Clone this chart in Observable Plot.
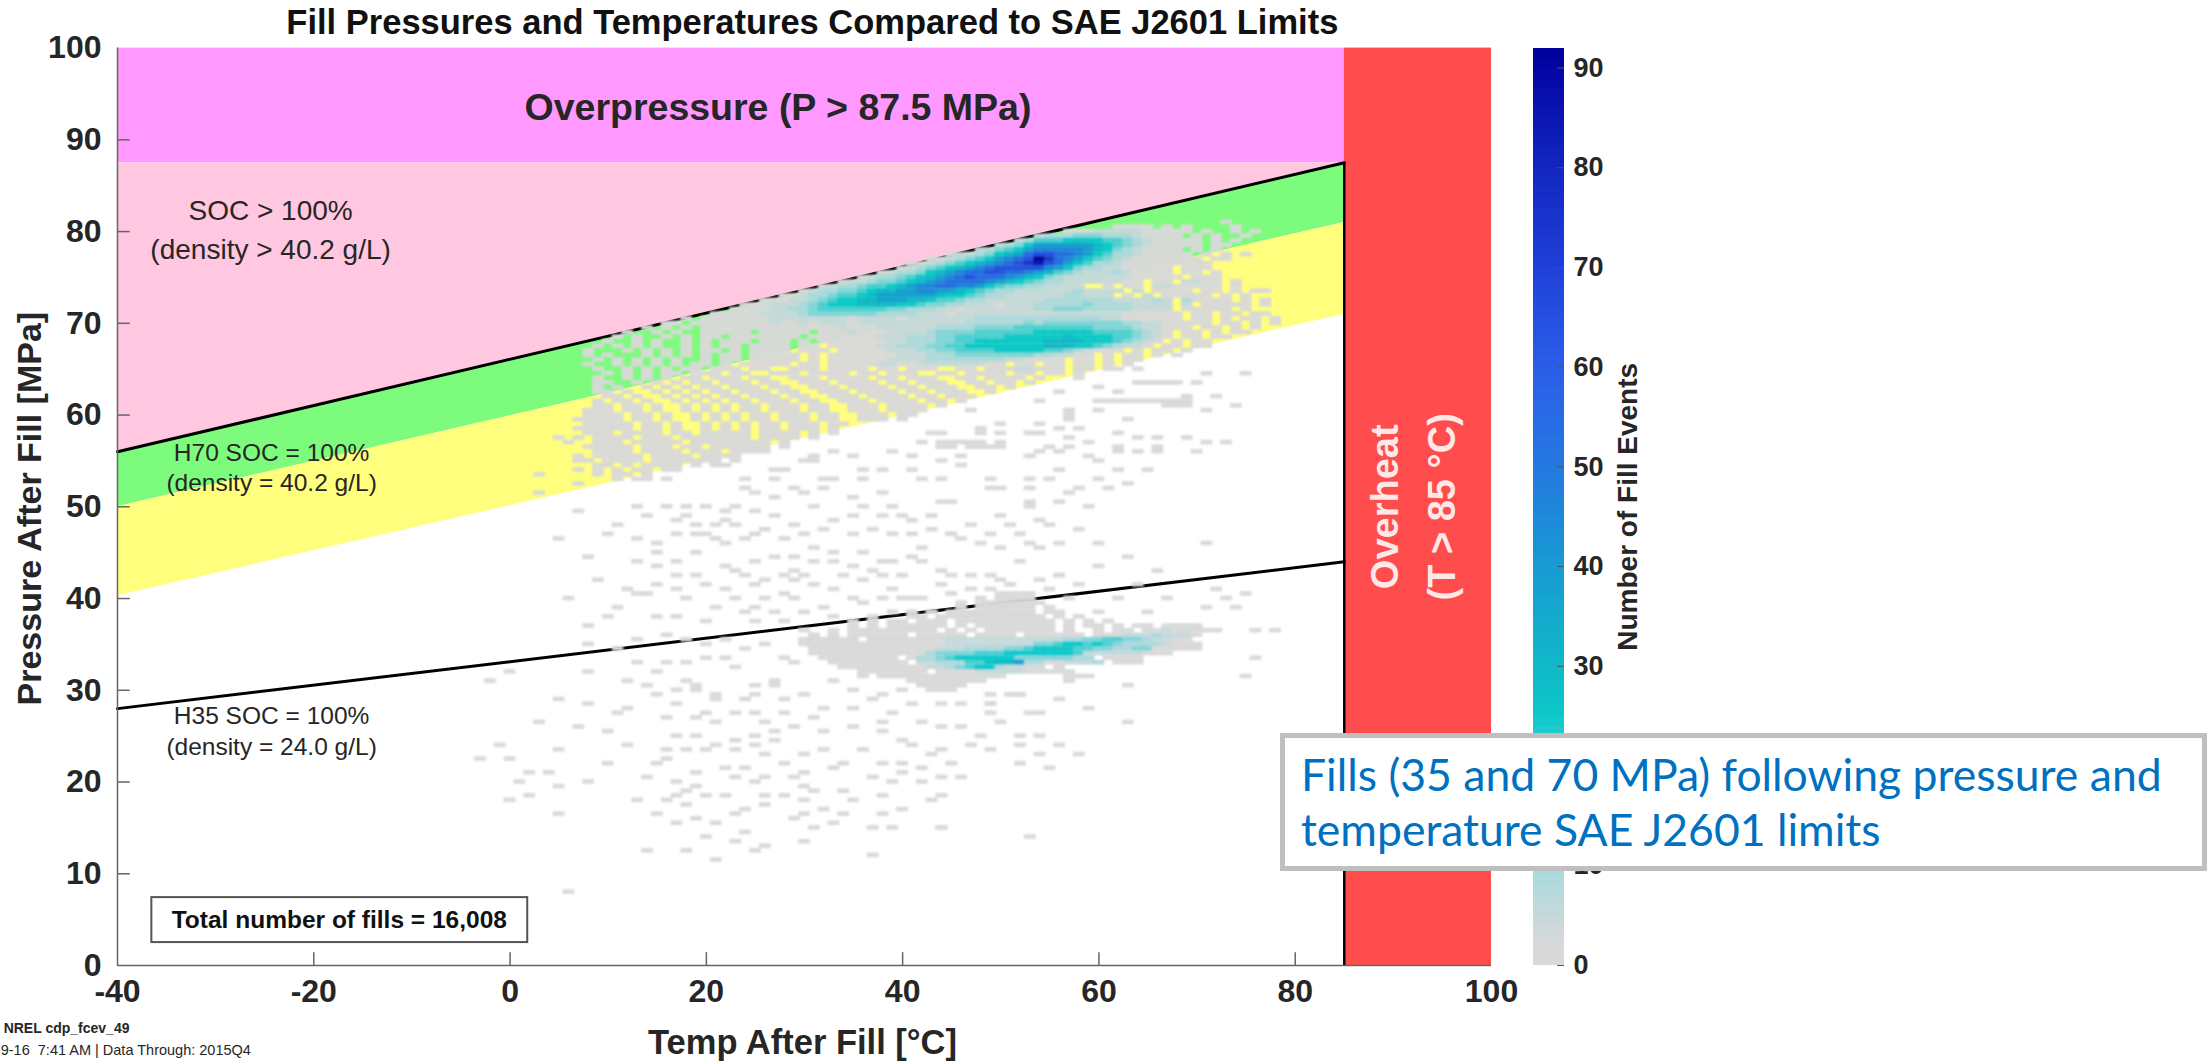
<!DOCTYPE html>
<html><head><meta charset="utf-8">
<script src="https://cdn.jsdelivr.net/npm/d3@7"></script>
<script src="https://cdn.jsdelivr.net/npm/@observablehq/plot@0.6"></script>
<style>
html,body{margin:0;padding:0;background:#fff;width:2207px;height:1063px;overflow:hidden}
#wrap{position:relative;width:2207px;height:1063px;overflow:hidden}
#main,#bar{position:absolute;top:0}
#main{left:0}#bar{left:1533px}
#callout{position:absolute;left:1280px;top:733px;width:927px;height:138px;box-sizing:border-box;border:5px solid #bfbfbf;background:#fff;color:#0070c0;font:44.5px/55px Lato,sans-serif;padding:8px 0 0 16px;white-space:nowrap}
</style></head><body>
<div id="wrap"><div id="main"></div><div id="bar"></div>
<div id="callout">Fills (35 and 70 MPa) following pressure and<br>temperature SAE J2601 limits</div></div>
<script>
const titleText = "Fill Pressures and Temperatures Compared to SAE J2601 Limits";
const xTicks = [-40,-20,0,20,40,60,80,100];
const yTicks = [0,10,20,30,40,50,60,70,80,90,100];
const barTicks = [0,10,20,30,40,50,60,70,80,90];
const limitT = [-40,85];
const socLine70 = [56,87.5];
const greenLow = [50,81];
const yellowLow = [40.3,71];
const socLine35 = [28,44];
const overP = 87.5;
const overT = 85;
const colorStops = [0,2,10,20,25,30,40,50,60,70,80,92];
const colorHex = ["#d9d9d9","#d9d9d9","#a5d9dd","#4ccfd2","#0cc8ca","#10b8c8","#189ad2","#2478e0","#2a5ee8","#1f40d8","#1226c0","#00009c"];
const levelChars = "123456789abcde";
const levelCounts = [2,5,9,14,20,25,30,38,46,55,65,75,85,92];

// Dense part of the histogram: [pressure, first temperature, one level character per 1 °C]
const denseRows = [
[81,73,"1"],
[80.5,62,"1111.1.1....1"],
[80,57,"1112222211111.1..1.1"],
[79.5,54,"233344433321111.1.1..1"],
[79,52,"2355566665543211111.1.1"],
[78.5,50,"234688888876543211111.11"],
[78,48,"234568999998764321111.1.1"],
[77.5,45,"12234678abbaa986533211111.1.1.1"],
[77,43,"112345689abeca98654321111111.11"],
[76.5,41,"1123456789abcdba865332111111111"],
[76,40,"123456789abbbbb9864332211111.111"],
[75.5,38,"123346789aabbaa987543222321111.11.1"],
[75,36,"1233456789abaaa987643222222211111.111."],
[74.5,34,"12234456789aaaa9876543322222211.11.2211.1"],
[74,32,"123345567899aa9986544332222..1.11.2211111.1"],
[73.5,30,"123344567788998876543322222232222.2.1111.11.1.11"],
[73,28,"1123345567888888766543322222233222.1.2.11111.1.1"],
[72.5,26,"111223456677888776554332222223333333222232.31111.1.1"],
[72,24,"11122234566677776654433222122233333433332222.2.11111.1"],
[71.5,23,"11112233455555554433322122222223344433333 2222.11111.1.".replace(" ","")],
[71,21,"1111122223444444433332221222222222222222 22111111.11.11.11".replace(" ","")],
[70.5,18,"1.1111111222222221222212222222333333333333322111111.11.1.11.1"],
[70,16,"11.1111111121121222122222222222333333434444444433221 1111.11.1.1".replace(" ","")],
[69.5,14,"1.1.1.1111111111111121112222 2233334444555555554444322111.11.1.1".replace(" ","")],
[69,12,"1..1.1..11111.11111.11121112222344445555556666665555432 1.11.1.11".replace(" ","")],
[68.5,11,"1.1..1.1.11.1111111.111111122233344555556666667666655432 1.11.11".replace(" ","")],
[68,10,"1..1.1..1.1.111.111.1.1111111223334455666666677776665432 1.1.11".replace(" ","")],
[67.5,9,"1.1.1.1..1.1.11.1111.11.1111122333445566666666777665432 21.11.11".replace(" ","")],
[67,8,"1...1.1.1.1.11.1.1111.111.1111122233445555666665543211 1.1.11.1".replace(" ","")],
[66.5,8,"1.1...1.1.1.1.11.11111.1.11111112223334444444433221 1.1.11.1.1".replace(" ","")],
[66,9,"1.1.1.1.1..1.11.11111.1.111111222233333333221111.11.1.11".replace(" ","")],
[65.5,8,"1..1.1.1.1.11.1.11111.11.111112211222222211.11.11.11.1.1"],
[65,9,"1..1.1.1.11.111.11..111.1111.11.111..11.11122111.11.11.1"],
[64.5,10,"1.1.1.11.111.11..111.1111.11.111..11.1111.11.11.1"],
[64,9,"1..1.1.1.11.111.11..111.1111.11.111..11.1111.1"],
[63.5,9,"11..1.1.1.11.111.11..111.1111.11.111..11.11.1"],
[63,9,"1.1..1.1.1.11.111.11..111.1111.11.111..11.1"],
[62.5,9,"11.1..1.1.1.11.111.11..111.1111.11.111..1"],
[62,9,".11.1..1.1.1.11.111.11..111.1111.11.111"],
[61.5,9,"1.11.1..1.1.1.11.111.11..111.1111.11.1"],
[61,9,"11.11.1..1.1.1.11.111.11..111.1111.1"],
[60.5,8,"111.11.1..1.1.1.11.111.11..111.1111."],
[60,8,"1111.11.1..1.1.1.11.111.11..111.11"],
[59.5,7,"11111.11.1..1.1.1.11.111.11..111."],
[59,8,"11111.11.1..1.1.1.11.111.11"],
[58.5,7,"111111.11.1..1.1.1.11.111.1"],
[58,8,"111.1111.11.11111.1111.1.1"],
[57.5,7,"1.1111.111.1111111.1111.1"],
[57,6,"1..111.11111.11111111.1"],
[56.5,8,"11111.111.11.111111.1"],
[56,9,"1111.1111.111.1111"],
[55.5,7,"1.11111.1111.1111"],
[55,8,"1.1111.1111111.1"],
[54.5,9,"11.1.1111.1.11"],
[54,7,"1.1.1.11.11"],
[53.5,9,"1.11.1"],
[53,11,"1.11.1"],
[63.5,64,"11111"],
[61.5,60,"1111111111"],
[61,67,"111"],
[57,42,"1.11111.1"],
[56.5,44,"11.1111"],
[58,48,"1.1..11"],
[40.5,50,"111"],
[40,50,"1111"],
[39.5,48,"1111111"],
[39,46,"1.111111.1"],
[38.5,43,"1.111111111.11"],
[38,41,"11.11111111111.1.1"],
[37.5,37,"1.11.111.1111111111.1.1.1"],
[37,35,"1.1.111111.1.11111111.1.11.1.11.1111"],
[36.5,33,"1.111111111.1.1.1111111.1..1.11.11211111"],
[36,31,"1.1.111111.11111.1111.111111.11122232221"],
[35.5,30,"111111.111111112222222222223344554432211"],
[35,30,"11111111111111122222222244566565433332111"],
[34.5,31,"1111111111111222333344566665544334411111"],
[34,32,"111111111113444455566666665222222111"],
[33.5,32,"11111111.1334566666644444433.1111"],
[33,33,"11111111.2233355677833112223.111"],
[32.5,34,"111111111223456632211.1"],
[32,35,".1111111.11112222211111"],
[31.5,38,"1111111111111......111"],
[31,41,"11111111"],
[30.5,42,"11111"],
[30,43,"111"]
];

// Isolated 1–2 count cells in the sparse cloud: [temperature, pressure]
const sparseCells = [
[0,32],[8,32],[-2,31],[12,31],[15,32],[13,33],[16,33],[18,33],[20,33.5],[22,33.5],[23,32.5],[18,31],[19,30.5],[19,30],[21,29.5],[21,29],
[25,30.5],[25,29.5],[24,29],[27,31],[27,30.5],[5,29],[8,28.5],[11,27.5],[12,28],[15,29.5],[17,28.5],[16,27],[20,27.5],[19,27],[21,26.5],
[25,27.5],[28,27.5],[31,27],[29,26],[32,28],[32,25.5],[35,26],[35,28],[37,29],[40,30],[39,27.5],[38,26.5],[38,25.5],[40,24.5],[42,26.5],[44,26],
[41,28.5],[44,28.5],[46,28.5],[49,27.5],[49,28.5],[52,29.5],[53,27.5],[48,25],[52,25],[52,24],[47,24],[49,23.5],[52,22],[54,23],
[36,23.5],[32,23.5],[30,23],[26,23],[17,25],[19,25],[-1,24],[5,23.5],[16,23.5],[18,23.5],[20,23.5],[21,24],[23,23.5],[23,24.5],[25,24],[25,25],[27,24.5],[27,25.5],
[10,22],[15,22],[16,22.5],[14,20.5],[19,21],[17,20],[19,19.5],[18,19],[17,18.5],[20,18.5],[22,18.5],[16,18],[18,17.5],
[13,18],[0,22.5],[-3,22.5],[2,21],[4,21],[1,20],[5,19.5],[8,20],[2,18.5],[0,18],[5,16.5],
[23,20.5],[25,20],[26,20.5],[26,18.5],[28,18.5],[30,18],[26,17.5],[24,17],[23,16.5],[15,16.5],[17,15.5],[19,16],[21,15.5],
[30,21],[29,20.5],[30,19.5],[31,19],[33,21.5],[34,19],[37,20.5],[39,20],[42,20],[40,21],[38,22],[40,22],[42,21.5],[44,20.5],[46,20.5],[45,22],
[35,18],[38,18.5],[43,18],[44,18.5],[32,17],[34,16.5],[30,16.5],[29,16],[33,15.5],[31,15],[38,16.5],[40,17],
[37,15],[39,15],[44,15],[30,13.5],[24,14.5],[23,13.5],[26,13],[25,12.5],[20,14],[18,12.5],[14,12.5],[21,11.5],[37,12],[53,14],[6,8],
[7,49.5],[11,48],[10,47],[13,50],[16,50],[18,50],[18,49],[14,49],[20,50],[22,49.5],[23,50],[25,49.5],[27,49],
[17,48.5],[19,48],[21,48],[22,48.5],[23,48],[17,47],[19,47],[20,47],[21,46.5],[22,46],[24,46.5],[25,47],[28,46.5],
[5,46.5],[8,44.5],[13,46.5],[15,46],[15,45],[17,44],[19,45],[13,44],[15,43.5],[9,42],[6,40],[12,41],[13,40.5],[11,39],[10,38],[8,37],
[14,40.5],[15,41.5],[17,41],[18,40],[17,42.5],[19,42.5],[20,41.5],[21,39],[15,38],[17,38],[20,37.5],[22,43.5],[23,43],[24,42.5],[26,42],[28,42.5],[29,43],[29,42],
[30,42.5],[31,44],[33,44],[29,44.5],[31,45.5],[33,45],[27,44.5],[25,44],[28,40.5],[29,40],[30,38.5],[25,39],[24,38.5],[25,37.5],[31,41.5],[33,41],
[34,42.5],[35,43.5],[36,45],[38,44],[39,44],[41,44.5],[42,44],[44,43],[45,42.5],[47,42.5],[37,43],[36,42],[38,42.5],[39,41],[40,42.5],[35,40],[36,39.5],[38,40],[40,40],[41,40],[42,40],[44,41.5],[45,40.5],[47,41],
[49,42.5],[50,42],[54,42],[56,42.5],[52,44],[50,45.5],[54,45.5],[53,46],[46,46.5],[45,47],[42,45.5],
[35,51],[36,50],[38,49],[35,49],[40,49],[41,48.5],[43,49],[44,50.5],[39,50],[31,50],[30,51.5],[27,51],[25,51.5],[24,52],[24,53],[27,54],[27,53],[29,52],[32,52],[32,53],[33,53],
[31,55.5],[31,55],[30,55],[28,54],[33,56],[35,55.5],[36,54],[38,54],[36,53],[38,51.5],[41,54],[42,53],[41,55.5],[44,55],[46,55.5],[46,54.5],[44,53],[49,53],[45,50.5],[47,48],[45,47],
[50,49],[51,48],[54,48.5],[55,48],[53,50.5],[53,50],[56,50.5],[49,52],[50,52],[53,53],[55,53],[53,52],[56,54],[56,56],[54,56],[39,56],
[48,58.5],[50,59],[53,58],[57,59.5],[57,60],[47,60.5],[43,58],[44,58],[40,59.5],[41,60],
[71,64.5],[75,64.5],[70,63.5],[69,62],[72,62],[71,60.5],[74,61],[58,64],[60,63],[62,62.5],[56,62.5],[54,61.5],[57,60.5],[60,60.5],[63,59.5],
[54,59],[56,58.5],[58,58.5],[57,57.5],[62,58],[64,57.5],[66,57.5],[69,57.5],[71,57],[73,57],[66,56.5],[62,56.5],[59,57],[55,56.5],[57,56.5],[70,56],[64,56],[59,55.5],[66,56],[62,56],[53,55.5],
[60,46],[71,46],[56,42.5],[60,43.5],[72,41],[75,40.5],[74,39],[60,38.5],[65,38.5],[71,39],[73,40],[76,33.5],[75,31.5],[63,30.5],[63,26.5],[59,28],[56,29],[54,27.5],[57,31],[51,29.5],[49,29.5],[49,28.5],[52,29.5],[54,25],[56,24],[58,23],[55,21.5],[44,15],[78,36.5],[76,36.5],
[5,57.5],[3,53.5],[7,55],[7,52.5],[3,51.5],
[26,47.5],[29,48],[30,47],[32,47.5],[33,48.5],[35,47],[37,47.5],[39,47],[41,47],[43,47.5],[48,46],[49,47],[52,47],[56,46],[58,47.5],[59,50],[58,52],[57,51.5],[60,53],[61,52],[62,54],[60,55],[63,52.5],[65,54],
[22,41],[23,40],[25,41.5],[26,40],[27,38.5],[28,37.5],[30,36.5],[32,39],[33,38],[35,37.5],[37,38],[39,38.5],[41,38.5],[43,38.5],[46,39.5],[48,40],[49,41],[51,41.5],[53,40.5],[55,41],[57,40],[58,41.5],[62,40],[64,41.5],[67,40],[66,43],[63,44.5],
[16,36],[18,35.5],[20,35],[22,35.5],[24,34.5],[26,35],[28,33.5],[29,33],[31,34],[11,34.5],[13,35.5],[8,35],[14,30.5],[17,30],[23,27.5],[26,26.5],[28,29],[30,29.5],[33,31],[35,30],[36,31.5],[38,29.5],[34,32.5],[37,32.5],
[46,26],[50,26.5],[43,23],[41,24],[44,23.5],[34,22],[28,22],[22,21.5],[24,21.5],[12,24],[10,25.5],[7,26],[3,26.5]
];

const fills = [
  ...denseRows.flatMap(([p,t0,s]) => [...s].flatMap((ch,i) => ch==="." ? [] : [{t:t0+i,p,count:levelCounts[levelChars.indexOf(ch)]}])),
  ...sparseCells.map(([t,p]) => ({t,p,count:2}))
];
const barLevels = d3.range(0,92);
const colorOpt = {type:"linear",domain:colorStops,range:colorHex,interpolate:"rgb"};
const font = "Liberation Sans";
const ink = "#262626";
const limitRows = limitT.map((t,i)=>({t,a:socLine70[i],b:greenLow[i],c:yellowLow[i],h:socLine35[i]}));
const label = (text,t,p,o={}) => Plot.text([text],{x:()=>t,y:()=>p,text:d=>d,fontFamily:font,fill:ink,...o});
const softened = (index,scales,values,dims,ctx,next) => { const g = next(index,scales,values,dims,ctx); g.style.filter = "blur(1.2px)"; return g; };

const main = Plot.plot({
  width:2207,height:1063,marginLeft:117,marginRight:716,marginTop:47.6,marginBottom:98,
  style:{fontFamily:font,background:"transparent",overflow:"visible"},
  x:{domain:[-40,100],label:null},y:{domain:[0,100],label:null},color:colorOpt,
  marks:[
    Plot.rect([1],{x1:()=>-40,x2:()=>overT,y1:()=>overP,y2:()=>100,fill:"#ff99ff"}),
    Plot.areaY(limitRows,{x:"t",y1:"a",y2:()=>overP,fill:"#ffc8e0"}),
    Plot.areaY(limitRows,{x:"t",y1:"a",y2:"b",fill:"#7dfb7d"}),
    Plot.areaY(limitRows,{x:"t",y1:"b",y2:"c",fill:"#ffff7d"}),
    Plot.rect([1],{x1:()=>overT,x2:()=>100,y1:()=>0,y2:()=>100,fill:"#ff4d4d"}),
    Plot.line(limitRows,{x:"t",y:"a",stroke:"#000",strokeWidth:3}),
    Plot.line(limitRows,{x:"t",y:"h",stroke:"#000",strokeWidth:3}),
    Plot.ruleX([overT],{y1:0,y2:overP,stroke:"#000",strokeWidth:2.5}),
    Plot.rect(fills,{x1:d=>d.t-.6,x2:d=>d.t+.6,y1:d=>d.p-.25,y2:d=>d.p+.25,fill:"count",render:softened}),
    Plot.ruleX(xTicks.slice(1,-1),{x:d=>d,y1:0,y2:1.4,stroke:"#666",strokeWidth:1.5}),
    Plot.ruleY(yTicks.slice(1,-1),{y:d=>d,x1:-40,x2:-38.7,stroke:"#666",strokeWidth:1.5}),
    Plot.ruleY([0],{x1:-40,x2:100,stroke:"#666",strokeWidth:1.5}),
    Plot.ruleX([-40],{y1:0,y2:100,stroke:"#666",strokeWidth:1.5}),
    Plot.axisX(xTicks,{tickSize:0,tickPadding:14,fontSize:32,fontWeight:"bold",fill:ink,label:null,fontFamily:font,tickFormat:d=>String(d)}),
    Plot.axisY(yTicks,{tickSize:0,tickPadding:16,fontSize:32,fontWeight:"bold",fill:ink,label:null,fontFamily:font,tickFormat:d=>String(d)}),
    label(titleText,30.8,102.7,{fontSize:34.5,fontWeight:"bold",fill:"#111"}),
    label("Pressure After Fill [MPa]",-48.9,49.8,{fontSize:34,fontWeight:"bold",rotate:-90}),
    label("Temp After Fill [°C]",29.8,-8.4,{fontSize:34.5,fontWeight:"bold"}),
    label("Overpressure (P > 87.5 MPa)",27.3,93.5,{fontSize:37.5,fontWeight:"bold"}),
    label("SOC > 100%\n(density > 40.2 g/L)",-24.4,80.5,{fontSize:28,lineHeight:1.4}),
    label("H70 SOC = 100%\n(density = 40.2 g/L)",-24.3,54.4,{fontSize:24.5,lineHeight:1.22}),
    label("H35 SOC = 100%\n(density = 24.0 g/L)",-24.3,25.7,{fontSize:24.5,lineHeight:1.25}),
    label("Overheat",(1385-117)/9.81-40,50,{fontSize:38,fontWeight:"bold",rotate:-90,fill:"#ffe8e8"}),
    label("(T > 85 °C)",(1442-117)/9.81-40,50,{fontSize:38,fontWeight:"bold",rotate:-90,fill:"#ffe8e8"}),
    Plot.rect([1],{x1:()=>-36.5,x2:()=>1.8,y1:()=>2.5,y2:()=>7.4,fill:"#fff",stroke:"#555",strokeWidth:2}),
    label("Total number of fills = 16,008",-17.4,4.95,{fontSize:24.5,fontWeight:"bold",fill:"#111"}),
    label("NREL cdp_fcev_49",-51.6,-6.9,{fontSize:14,fontWeight:"bold",textAnchor:"start"}),
    label("9-16  7:41 AM | Data Through: 2015Q4",-51.9,-9.3,{fontSize:14.5,textAnchor:"start"})
  ]
});
document.getElementById("main").append(main);

const bar = Plot.plot({
  width:120,height:1063,marginLeft:0,marginRight:89,marginTop:47.6,marginBottom:98,
  style:{fontFamily:font,background:"transparent",overflow:"visible"},
  x:{domain:[0,1],axis:null},y:{domain:[0,92],label:null},color:colorOpt,
  marks:[
    Plot.rect(barLevels,{x1:()=>0,x2:()=>1,y1:d=>d,y2:d=>d+1,fill:d=>d+.5,shapeRendering:"crispEdges"}),
    Plot.ruleY(barTicks,{y:d=>d,x1:.78,x2:1,stroke:"#555",strokeWidth:1}),
    Plot.axisY(barTicks,{anchor:"right",tickSize:0,tickPadding:9,fontSize:27,fontWeight:"bold",fill:ink,label:null,fontFamily:font}),
    Plot.text(["Number of Fill Events"],{frameAnchor:"right",textAnchor:"middle",dx:64,rotate:-90,fontSize:28,fontWeight:"bold",fill:ink,fontFamily:font})
  ]
});
document.getElementById("bar").append(bar);
</script></body></html>
